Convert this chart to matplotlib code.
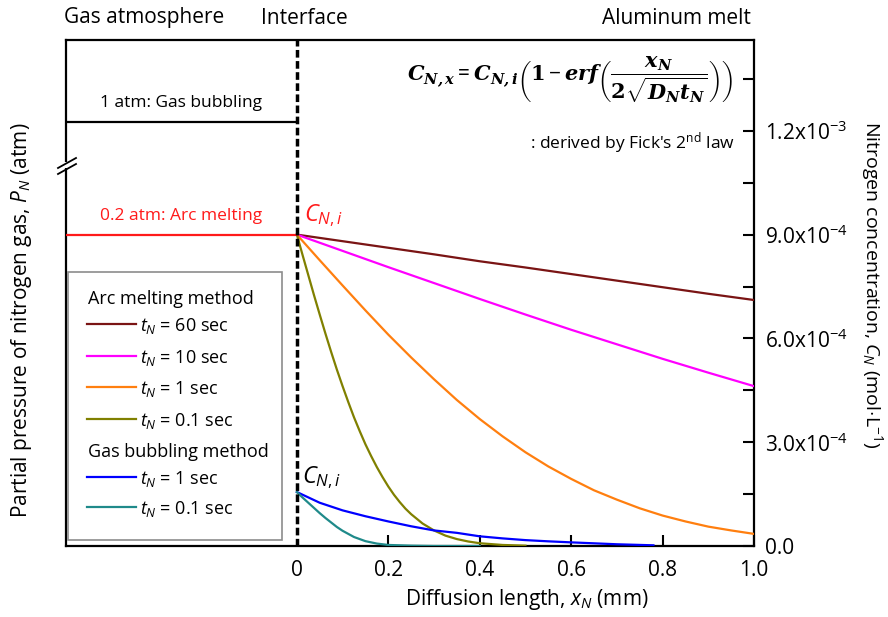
import matplotlib
matplotlib.use("Agg")
import matplotlib.pyplot as plt
from matplotlib.lines import Line2D
from matplotlib.patches import Rectangle

plt.rcParams['font.family'] = ['Open Sans', 'DejaVu Sans']
plt.rcParams['mathtext.fontset'] = 'custom'
plt.rcParams['mathtext.rm'] = 'Open Sans'
plt.rcParams['mathtext.it'] = 'Open Sans:italic'
plt.rcParams['mathtext.bf'] = 'DejaVu Serif:bold'
plt.rcParams['mathtext.bfit'] = 'DejaVu Serif:italic:bold'

# ---- data ----
# arc melting (C_N,i = 9.0e-4 mol/L)
x_arc = [0, 0.1, 0.2, 0.3, 0.4, 0.5, 0.6, 0.7, 0.8, 0.9, 1.0]
c_arc_60 = [9.0e-4, 8.81e-4, 8.62e-4, 8.43e-4, 8.23e-4, 8.05e-4, 7.86e-4, 7.67e-4, 7.48e-4, 7.29e-4, 7.11e-4]
c_arc_10 = [9.0e-4, 8.53e-4, 8.06e-4, 7.60e-4, 7.14e-4, 6.69e-4, 6.25e-4, 5.83e-4, 5.41e-4, 5.01e-4, 4.62e-4]
x_arc_1 = [0, 0.05, 0.1, 0.15, 0.2, 0.25, 0.3, 0.35, 0.4, 0.45, 0.5,
           0.55, 0.6, 0.65, 0.7, 0.75, 0.8, 0.85, 0.9, 0.95, 1.0]
c_arc_1 = [9.0e-4, 8.26e-4, 7.53e-4, 6.81e-4, 6.11e-4, 5.45e-4, 4.82e-4, 4.22e-4, 3.67e-4, 3.17e-4, 2.71e-4,
           2.30e-4, 1.94e-4, 1.61e-4, 1.34e-4, 1.09e-4, 8.8e-5, 7.1e-5, 5.6e-5, 4.5e-5, 3.5e-5]
x_arc_01 = [0, 0.0125, 0.025, 0.0375, 0.05, 0.0625, 0.075, 0.0875, 0.1, 0.1125, 0.125, 0.1375, 0.15,
            0.1625, 0.175, 0.1875, 0.2, 0.2125, 0.225, 0.2375, 0.25,
            0.275, 0.3, 0.325, 0.35, 0.375, 0.4, 0.45, 0.5]
c_arc_01 = [9.0e-4, 8.41e-4, 7.83e-4, 7.25e-4, 6.69e-4, 6.14e-4, 5.61e-4, 5.10e-4, 4.62e-4, 4.16e-4,
            3.72e-4, 3.32e-4, 2.94e-4, 2.60e-4, 2.28e-4, 1.99e-4, 1.72e-4, 1.48e-4, 1.27e-4, 1.08e-4, 9.2e-5,
            6.5e-5, 4.5e-5, 3.0e-5, 2.0e-5, 1.3e-5, 8e-6, 3e-6, 1e-6]
# gas bubbling (C_N,i ~ 1.56e-4 mol/L)
x_gas_1 = [0, 0.05, 0.1, 0.15, 0.2, 0.25, 0.3, 0.35, 0.4, 0.45, 0.5, 0.55, 0.6, 0.7, 0.78]
c_gas_1 = [1.56e-4, 1.25e-4, 1.03e-4, 8.6e-5, 7.1e-5, 5.7e-5, 4.5e-5, 3.8e-5, 2.8e-5, 2.2e-5, 1.7e-5,
           1.35e-5, 1.05e-5, 5e-6, 2e-6]
x_gas_01 = [0, 0.0125, 0.025, 0.0375, 0.05, 0.0625, 0.075, 0.0875, 0.1, 0.125, 0.15, 0.175, 0.2, 0.25,
            0.3, 0.4]
c_gas_01 = [1.56e-4, 1.40e-4, 1.25e-4, 1.10e-4, 9.5e-5, 8.1e-5, 6.8e-5, 5.5e-5, 4.4e-5, 2.6e-5, 1.4e-5,
            7e-6, 3e-6, 1e-6, 0, 0]

# gas side (schematic levels on the broken pressure axis)
gas_labels = ["1 atm: Gas bubbling", "0.2 atm: Arc melting"]
gas_levels = [1.225e-3, 9.0e-4]
gas_colors = ["black", "#ff1a1a"]

arc_labels = ["$t_N$ = 60 sec", "$t_N$ = 10 sec", "$t_N$ = 1 sec", "$t_N$ = 0.1 sec"]
arc_colors = ["#7a1414", "#ff00ff", "#ff7f0f", "#808000"]
gas_leg_labels = ["$t_N$ = 1 sec", "$t_N$ = 0.1 sec"]
gas_curve_colors = ["#0000ff", "#1f8a8a"]

xticks = [0, 0.2, 0.4, 0.6, 0.8, 1.0]
xticklabels = ["0", "0.2", "0.4", "0.6", "0.8", "1.0"]
yticks = [0, 3e-4, 6e-4, 9e-4, 1.2e-3]
yticklabels = ["0.0", r"3.0x10$^{-4}$", r"6.0x10$^{-4}$", r"9.0x10$^{-4}$", r"1.2x10$^{-3}$"]

W, H = 888, 617
L, R, T, B = 66, 754, 40, 546
fig = plt.figure(figsize=(W / 100, H / 100), dpi=100)
ax = fig.add_axes([L / W, 1 - B / H, (R - L) / W, (B - T) / H])


def axfrac(px, py):
    return (px - L) / (R - L), (B - py) / (B - T)


def figfrac(px, py):
    return px / W, 1 - py / H


# curves
for xs, cs, col in [(x_arc, c_arc_60, arc_colors[0]), (x_arc, c_arc_10, arc_colors[1]),
                     (x_arc_1, c_arc_1, arc_colors[2]), (x_arc_01, c_arc_01, arc_colors[3]),
                     (x_gas_1, c_gas_1, gas_curve_colors[0]), (x_gas_01, c_gas_01, gas_curve_colors[1])]:
    ax.plot(xs, cs, color=col, lw=1.6, solid_joinstyle='round', zorder=3)

# gas side lines
for lev, col in zip(gas_levels, gas_colors):
    ax.plot([-0.6, 0], [lev, lev], color=col, lw=1.6, zorder=3)
ax.text(-0.253, gas_levels[0] + 0.55e-4, gas_labels[0], ha='center', va='center', fontsize=12.5, color='black')
ax.text(-0.253, gas_levels[1] + 0.55e-4, gas_labels[1], ha='center', va='center', fontsize=12.5, color='#ff1a1a')

# interface
ax.axvline(0, color='black', lw=2.5, ls=(0, (2.2, 1.0)), zorder=4)

ax.set_xlim(-0.505, 1.0)
ax.set_ylim(0, 1.4625e-3)

ax.set_xticks(xticks)
ax.set_xticklabels(xticklabels, fontsize=15)
ax.tick_params(axis='x', direction='in', length=8, width=1.5, pad=10, top=False)
ax.xaxis.get_major_ticks()[0].tick1line.set_visible(False)

ax.yaxis.tick_right()
ax.set_yticks(yticks)
ax.set_yticklabels(yticklabels, fontsize=15)
ax.set_yticks([1.5e-4, 4.5e-4, 7.5e-4, 1.05e-3, 1.35e-3], minor=True)
ax.tick_params(axis='y', which='both', direction='in', length=8, width=1.5, pad=8, left=False)
for s in ax.spines.values():
    s.set_linewidth(1.6)

# axis labels
fig.text(*figfrac(527, 600), "Diffusion length, $x_N$ (mm)", ha='center', va='center', fontsize=15)
fig.text(*figfrac(22, 320), "Partial pressure of nitrogen gas, $P_N$ (atm)", ha='center', va='center',
         rotation=90, fontsize=15)
fig.text(*figfrac(872, 285), "Nitrogen concentration, $C_N$ (mol$\\cdot$L$^{-1}$)", ha='center', va='center',
         rotation=270, fontsize=14)

# region titles
fig.text(*figfrac(64, 18), "Gas atmosphere", ha='left', va='center', fontsize=15)
fig.text(*figfrac(304, 18), "Interface", ha='center', va='center', fontsize=15)
fig.text(*figfrac(751, 18), "Aluminum melt", ha='right', va='center', fontsize=15)

# equation
ax.text(*axfrac(733, 80), r"$\mathbfit{C_{N,x}} = \mathbfit{C_{N,i}}\left(\mathbf{1} - \mathbfit{erf}\left(\dfrac{\mathbfit{x_N}}{\mathbf{2}\sqrt{\mathbfit{D_N t_N}}}\right)\right)$",
        transform=ax.transAxes, ha='right', va='center', fontsize=15)
ax.text(*axfrac(735, 143), ": derived by Fick's 2$^{\\mathrm{nd}}$ law", transform=ax.transAxes,
        ha='right', va='center', fontsize=12.5)

# C_N,i labels
ax.text(*axfrac(304, 216), "$C_{N,i}$", transform=ax.transAxes, ha='left', va='center', fontsize=17,
        color='#ff1a1a')
ax.text(*axfrac(302, 478), "$C_{N,i}$", transform=ax.transAxes, ha='left', va='center', fontsize=17,
        color='black')

# break marker on left axis
ax.add_patch(Rectangle(axfrac(62, 168), 8 / (R - L), 6 / (B - T), transform=ax.transAxes,
                       facecolor='white', edgecolor='none', clip_on=False, zorder=6))
for dy in (0, 6):
    x0, y0 = axfrac(58, 174 - dy)
    x1, y1 = axfrac(76, 164 - dy)
    ax.add_line(Line2D([x0, x1], [y0, y1], transform=ax.transAxes, color='black', lw=1.3,
                       clip_on=False, zorder=7))

# legend (manual)
lx0, ly0 = axfrac(68, 540)
lx1, ly1 = axfrac(282, 272)
ax.add_patch(Rectangle((lx0, ly0), lx1 - lx0, ly1 - ly0, transform=ax.transAxes, facecolor='white',
                       edgecolor='#8c8c8c', lw=1.2, zorder=5))
ax.text(*axfrac(88, 299), "Arc melting method", transform=ax.transAxes, ha='left', va='center',
        fontsize=13, zorder=6)
ax.text(*axfrac(88, 452), "Gas bubbling method", transform=ax.transAxes, ha='left', va='center',
        fontsize=13, zorder=6)
rows = list(zip(arc_labels, arc_colors, [324, 356, 387, 419])) + \
    list(zip(gas_leg_labels, gas_curve_colors, [477, 507]))
for lab, col, py in rows:
    a0, yy = axfrac(87, py)
    a1, _ = axfrac(136, py)
    ax.add_line(Line2D([a0, a1], [yy, yy], transform=ax.transAxes, color=col, lw=1.6, zorder=6))
    ax.text(*axfrac(140, py + 2), lab, transform=ax.transAxes, ha='left', va='center', fontsize=13, zorder=6)

fig.savefig("out.png", dpi=100)
